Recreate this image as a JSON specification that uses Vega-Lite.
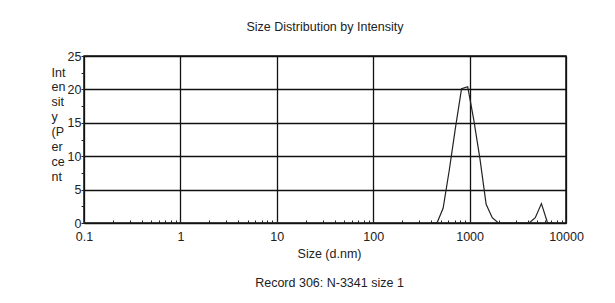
{
  "$schema": "https://vega.github.io/schema/vega-lite/v6.json",
  "autosize": "none",
  "width": 482,
  "height": 167,
  "padding": {"left": 84, "top": 56, "right": 49, "bottom": 80},
  "background": "white",
  "title": {
    "text": "Size Distribution by Intensity",
    "font": "Liberation Sans",
    "fontSize": 12.5,
    "fontWeight": "normal",
    "color": "#222",
    "anchor": "middle",
    "offset": 17
  },
  "data": {
    "values": [
      {"size": 396.1, "intensity": 0},
      {"size": 458.7, "intensity": 0},
      {"size": 531.2, "intensity": 2.2},
      {"size": 615.1, "intensity": 7.9},
      {"size": 712.4, "intensity": 14.2},
      {"size": 825.0, "intensity": 20.1},
      {"size": 955.4, "intensity": 20.4},
      {"size": 1106, "intensity": 15.4},
      {"size": 1281, "intensity": 9.6},
      {"size": 1484, "intensity": 2.8},
      {"size": 1718, "intensity": 0.8},
      {"size": 1990, "intensity": 0},
      {"size": 2305, "intensity": 0},
      {"size": 2669, "intensity": 0},
      {"size": 3091, "intensity": 0},
      {"size": 3580, "intensity": 0},
      {"size": 4145, "intensity": 0},
      {"size": 4801, "intensity": 0.8},
      {"size": 5560, "intensity": 2.9},
      {"size": 6439, "intensity": 0},
      {"size": 7456, "intensity": 0}
    ]
  },
  "mark": {"type": "line", "color": "#222", "strokeWidth": 1.2, "clip": true},
  "encoding": {
    "x": {
      "field": "size",
      "type": "quantitative",
      "scale": {"type": "log", "domain": [0.1, 10000], "nice": false},
      "axis": {
        "values": [0.1,0.2,0.3,0.4,0.5,0.6,0.7,0.8,0.9,1,2,3,4,5,6,7,8,9,10,20,30,40,50,60,70,80,90,100,200,300,400,500,600,700,800,900,1000,2000,3000,4000,5000,6000,7000,8000,9000,10000],
        "labelExpr": "abs(log(datum.value)/LN10 - round(log(datum.value)/LN10)) < 0.000001 ? datum.value + '' : ''",
        "labelOverlap": false,
        "labelFlush": false,
        "labelFont": "Liberation Sans",
        "labelFontSize": 12.5,
        "labelColor": "#222",
        "labelPadding": 10,
        "domain": false,
        "ticks": true,
        "tickSize": -3,
        "tickColor": "#222",
        "tickWidth": 1,
        "grid": true,
        "gridColor": "#111",
        "gridWidth": 1.3,
        "gridOpacity": {"condition": {"test": "abs(log(datum.value)/LN10 - round(log(datum.value)/LN10)) < 0.000001", "value": 1}, "value": 0},
        "title": ["Size (d.nm)", "Record 306: N-3341 size 1"],
        "titleFont": "Liberation Sans",
        "titleFontSize": 12.5,
        "titleFontWeight": "normal",
        "titleColor": "#222",
        "titleLineHeight": 29,
        "titleBaseline": "alphabetic",
        "titleAlign": "center",
        "titleX": 245,
        "titleY": 34
      }
    },
    "y": {
      "field": "intensity",
      "type": "quantitative",
      "scale": {"domain": [0, 25], "nice": false},
      "axis": {
        "values": [0,2.5,5,7.5,10,12.5,15,17.5,20,22.5,25],
        "labelExpr": "datum.value % 5 === 0 ? datum.value + '' : ''",
        "labelOverlap": false,
        "labelFlush": false,
        "labelFont": "Liberation Sans",
        "labelFontSize": 12.5,
        "labelColor": "#222",
        "labelPadding": 0,
        "labelBaseline": "middle",
        "domain": false,
        "ticks": true,
        "tickSize": 3,
        "tickColor": "#222",
        "tickWidth": 1,
        "grid": true,
        "gridColor": "#111",
        "gridWidth": 1.3,
        "gridOpacity": {"condition": {"test": "datum.value % 5 === 0", "value": 1}, "value": 0},
        "title": ["Int", "en", "sit", "y", "(P", "er", "ce", "nt"],
        "titleFont": "Liberation Sans",
        "titleFontSize": 12.5,
        "titleFontWeight": "normal",
        "titleColor": "#222",
        "titleAngle": 0,
        "titleAlign": "left",
        "titleBaseline": "alphabetic",
        "titleLineHeight": 14.9,
        "titleX": -33,
        "titleY": 20
      }
    }
  },
  "config": {
    "view": {"stroke": "#111", "strokeWidth": 1.5}
  }
}
